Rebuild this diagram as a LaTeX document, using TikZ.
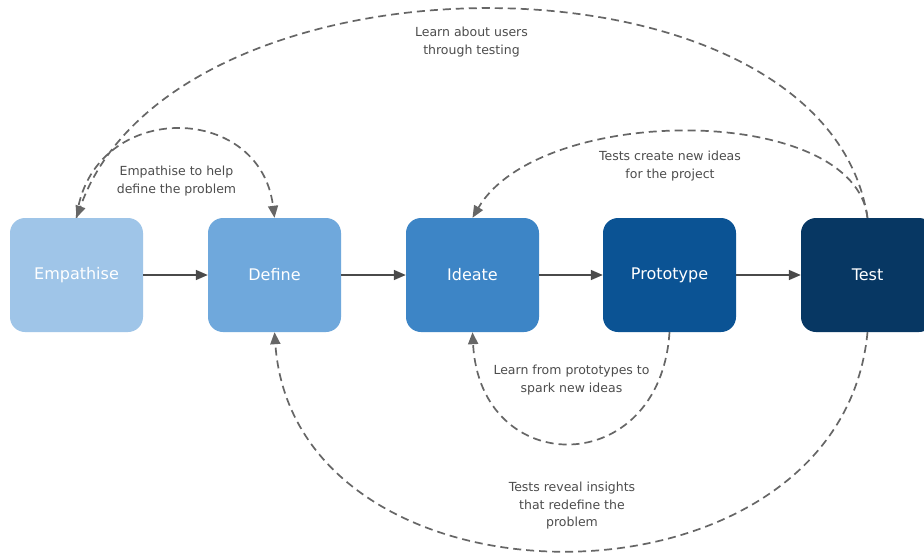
\documentclass[tikz,border=0pt]{standalone}
\usepackage{fontspec}
\setmainfont{DejaVu Sans}
\usetikzlibrary{arrows.meta}
\definecolor{cemp}{HTML}{9FC5E8}
\definecolor{cdef}{HTML}{6FA8DC}
\definecolor{cide}{HTML}{3D85C6}
\definecolor{cpro}{HTML}{0B5394}
\definecolor{ctst}{HTML}{073763}
\definecolor{arrowgray}{HTML}{4A4A4A}
\definecolor{dashgray}{HTML}{666666}
\definecolor{labelgray}{HTML}{4D4D4D}
\begin{document}
\begin{tikzpicture}[x=1pt,y=-1pt,
  box/.style={rounded corners=15pt, minimum width=133pt, minimum height=114pt,
    inner sep=0pt, text=white, font=\fontsize{16}{19}\selectfont},
  flow/.style={draw=arrowgray, line width=1.6pt, -{Triangle[length=12pt,width=10pt]}},
  loopback/.style={draw=dashgray, line width=1.7pt, dash pattern=on 8pt off 5pt,
    -{Triangle[length=12pt,width=10pt]}},
  lbl/.style={text=labelgray, font=\fontsize{12.5}{17.5}\selectfont, align=center, inner sep=0pt}]
\useasboundingbox (0,0) rectangle (924,554);
\fill[white] (0,0) rectangle (924,554);

\node[box, fill=cemp] (emp) at (76.5,275) {Empathise};
\node[box, fill=cdef] (def) at (274.5,275) {Define};
\node[box, fill=cide] (ide) at (472.5,275) {Ideate};
\node[box, fill=cpro] (pro) at (669.5,275) {Prototype};
\node[box, fill=ctst] (tst) at (867.5,275) {Test};

\draw[flow] (emp) -- (def);
\draw[flow] (def) -- (ide);
\draw[flow] (ide) -- (pro);
\draw[flow] (pro) -- (tst);

\draw[loopback] (emp.north) .. controls (90,100) and (260,100) .. (def.north);
\draw[loopback] (tst.north) .. controls (825,-60) and (175,-60) .. (emp.north);
\draw[loopback] (tst.north) .. controls (855,103) and (540,103) .. (ide.north);
\draw[loopback] (pro.south) .. controls (660,480) and (480,480) .. (ide.south);
\draw[loopback] (tst.south) .. controls (840,623) and (295,623) .. (def.south);

\node[lbl] (l1) at (471.5,42) {Learn about users\\through testing};
\node[lbl] (l2) at (176.5,181) {Empathise to help\\define the problem};
\node[lbl] (l3) at (670,166) {Tests create new ideas\\for the project};
\node[lbl] (l4) at (571.5,380) {Learn from prototypes to\\spark new ideas};
\node[lbl] (l5) at (572,506) {Tests reveal insights\\that redefine the\\problem};
\end{tikzpicture}
\end{document}
